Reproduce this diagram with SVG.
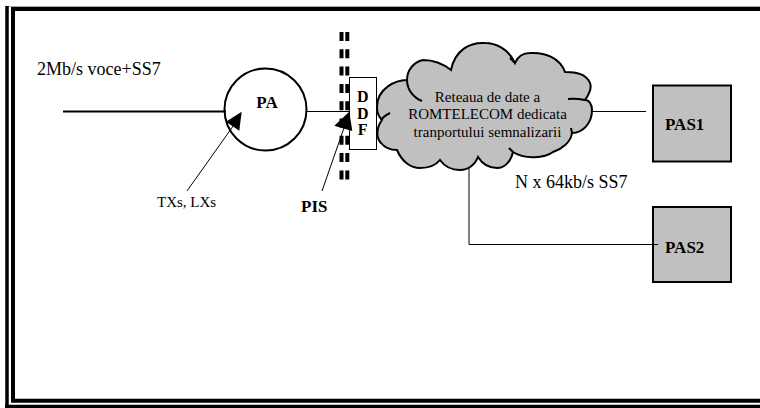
<svg xmlns="http://www.w3.org/2000/svg" width="760" height="408" viewBox="0 0 760 408">
<style>
text{font-family:"Liberation Serif","Times New Roman",serif;fill:#000}
.b{font-weight:bold}
.l{fill:none;stroke:#000}
.g{fill:#c0c0c0;stroke:#000}
.m{text-anchor:middle}
</style>
<rect width="760" height="408" fill="#fff"/>
<g id="frame">
<rect x="5" y="6" width="755" height="1" fill="#aaa"/>
<path d="M7 408V6" class="l" stroke-width="3.5"/>
<path d="M13 401V9H760M11 400.700H760" class="l" stroke-width="4"/>
<path d="M5 406.500H760" class="l" stroke-width="3.500"/>
</g>
<g id="connectors">
<path d="M63 111.500H226" class="l" stroke-width="2"/>
<path d="M307 111.500H349" class="l"/>
<path d="M341.500 32V183M347.300 32V183" class="l" stroke-width="4" stroke-dasharray="9 8.300"/>
<path d="M592 111.500H646" class="l"/>
</g>
<g id="PA">
<circle cx="265.500" cy="109.500" r="41" fill="none" stroke="#000" stroke-width="2"/>
<text x="267" y="108" class="b m" font-size="17">PA</text>
</g>
<g id="DDF">
<rect x="349.500" y="77.500" width="27" height="72" fill="#fff" stroke="#000"/>
<text x="362.700" y="102" class="b m" font-size="16">D</text>
<text x="362.700" y="118.500" class="b m" font-size="16">D</text>
<text x="362.700" y="135" class="b m" font-size="16">F</text>
</g>
<g id="cloud">
<path class="g" stroke-width="2" d="M407 80C396 80 377 88 377 107C377 112 379 117 382 120C376 128 376 138 381 143C385 148 391 150 397 150C402 162 411 168 420 168C429 168 436 165 440 160C445 167 453 170 460 170C468 170 475 165 478 157C483 165 490 168 497 168C505 168 511 161 513 152C525 160 545 158 553 152C562 149 571 142 572 133C583 133 592 123 592 110C592 104 589 100 585 100C590 93 592 88 590 83C586 74 577 72 565 72C560 58 545 52 530 53C524 53 518 56 515 63C508 48 495 43 485 43C470 42 455 50 451 70C442 63 432 60 423 60C413 62 407 71 407 80Z"/>
<path class="l" stroke-width="2" d="M407 80C407 90 414 98 422 101M390 113C386 115 383 117 381 120M572 133L571 128M585 100C580 99 574 98 568 99M515 63L510 58M513 152L509 148"/>
<text x="487.500" y="102" font-size="15" class="m">Reteaua de date a</text>
<text x="487.500" y="119" font-size="15" class="m">ROMTELECOM dedicata</text>
<text x="487.500" y="136.700" font-size="15" class="m">tranportului semnalizarii</text>
</g>
<g id="PAS1">
<rect x="653" y="85.500" width="78" height="76" class="g" stroke-width="2"/>
<text x="665" y="130" class="b" font-size="17">PAS1</text>
</g>
<g id="PAS2">
<rect x="653" y="207" width="78" height="75" class="g" stroke-width="2"/>
<text x="665" y="253" class="b" font-size="17">PAS2</text>
</g>
<g id="links">
<path d="M469 168V244.500H658" fill="none" stroke="#000"/>
</g>
<g id="arrows">
<path d="M187 191L236 122" class="l"/>
<path d="M241.700 111.700L226 121.700L239.300 130.700Z"/>
<path d="M322 191L345 125" class="l"/>
<path d="M349.300 111.700L334.300 125.700L352.300 131Z"/>
</g>
<g id="labels">
<text x="37" y="75" font-size="18">2Mb/s voce+SS7</text>
<text x="157" y="207" font-size="15">TXs, LXs</text>
<text x="301" y="211.500" class="b" font-size="17">PIS</text>
<text x="515" y="188" font-size="18">N x 64kb/s SS7</text>
</g>
</svg>
